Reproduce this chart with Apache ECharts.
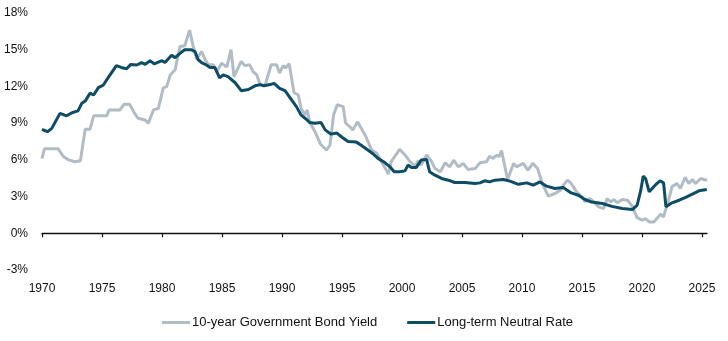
<!DOCTYPE html>
<html>
<head>
<meta charset="utf-8">
<script src="https://cdn.jsdelivr.net/npm/echarts@6/dist/echarts.min.js"></script>
<style>html,body{margin:0;padding:0;background:#fff}#c{width:728px;height:341px}</style>
</head>
<body>
<div id="c"></div>
<script>
const seriesNames = ['10-year Government Bond Yield', 'Long-term Neutral Rate'];
const xTickYears = [1970, 1975, 1980, 1985, 1990, 1995, 2000, 2005, 2010, 2015, 2020, 2025];
const yTicks = [-3, 0, 3, 6, 9, 12, 15, 18];

const bondYears = [1970.0,1970.2,1971.35,1971.8,1972.2,1972.75,1973.2,1973.6,1974.0,1974.3,1975.4,1975.6,1976.5,1976.85,1977.3,1977.75,1978.0,1978.6,1978.86,1979.3,1979.7,1980.1,1980.4,1980.7,1981.1,1981.36,1981.5,1981.9,1982.3,1982.6,1982.9,1983.3,1983.6,1983.86,1984.3,1984.55,1984.97,1985.4,1985.75,1986.0,1986.6,1986.9,1987.3,1987.6,1987.9,1988.2,1988.6,1989.1,1989.55,1989.8,1990.1,1990.3,1990.6,1991.0,1991.36,1991.6,1991.9,1992.1,1992.3,1992.75,1993.2,1993.7,1994.0,1994.3,1994.6,1995.1,1995.3,1995.67,1995.9,1996.3,1996.6,1996.97,1997.1,1997.47,1997.9,1998.3,1998.7,1998.86,1999.1,1999.55,1999.8,2000.25,2000.67,2001.1,2001.36,2001.6,2002.05,2002.4,2002.75,2003.2,2003.6,2004.0,2004.3,2004.7,2005.1,2005.5,2006.1,2006.5,2006.6,2007.05,2007.3,2007.6,2007.9,2008.1,2008.3,2008.8,2009.3,2009.55,2010.1,2010.5,2010.9,2011.3,2011.75,2012.2,2012.75,2013.2,2013.44,2013.8,2014.1,2014.55,2015.0,2015.25,2015.67,2016.4,2016.8,2017.1,2017.4,2017.67,2017.94,2018.36,2018.8,2019.2,2019.6,2020.0,2020.3,2020.6,2021.0,2021.3,2021.55,2021.8,2022.2,2022.5,2022.9,2023.2,2023.6,2023.9,2024.2,2024.47,2024.9,2025.3,2025.42];
const bondValues = [6.1,6.9,6.9,6.25,6.0,5.85,5.93,8.5,8.5,9.6,9.6,10.08,10.08,10.55,10.55,9.75,9.4,9.26,9.0,10.1,10.2,11.86,12.0,12.95,13.36,14.6,15.27,15.33,16.6,15.27,14.24,14.86,14.18,13.77,13.77,13.2,13.9,13.58,15.0,12.8,14.04,13.7,13.77,13.2,12.95,12.1,12.13,13.77,13.77,13.1,13.7,13.5,13.85,11.5,11.3,10.2,9.67,10.08,9.12,8.3,7.3,6.8,7.2,9.67,10.5,10.35,9.0,8.7,8.44,9.12,8.58,7.95,7.85,6.8,6.53,5.85,5.16,4.84,5.85,6.48,6.86,6.4,5.85,5.49,5.93,5.57,6.4,5.98,5.3,5.03,5.76,5.43,5.98,5.43,5.71,5.22,5.3,5.76,5.71,5.85,6.3,6.12,6.4,6.26,6.75,4.4,5.71,5.43,5.71,5.16,5.71,5.3,3.93,3.03,3.25,3.52,3.93,4.34,4.07,3.39,2.98,2.57,2.84,2.16,2.02,2.84,2.57,2.76,2.49,2.76,2.7,2.2,1.28,1.07,1.2,0.93,0.93,1.28,1.56,1.34,2.65,3.8,4.07,3.66,4.57,4.07,4.4,4.07,4.48,4.34,4.4];

const neutralYears = [1970.0,1970.45,1970.8,1971.5,1972.05,1972.5,1973.0,1973.3,1973.6,1974.0,1974.3,1974.7,1975.1,1975.5,1976.2,1976.6,1977.05,1977.4,1977.9,1978.3,1978.6,1979.0,1979.35,1980.0,1980.25,1980.8,1981.1,1981.5,1981.9,1982.45,1982.75,1983.0,1983.3,1983.7,1984.0,1984.4,1984.8,1985.1,1985.5,1986.1,1986.6,1987.2,1987.75,1988.2,1988.5,1989.0,1989.35,1989.8,1990.25,1990.8,1991.2,1991.6,1992.05,1992.3,1992.75,1993.25,1993.6,1994.1,1994.55,1995.0,1995.5,1996.2,1996.6,1997.3,1997.6,1998.0,1998.6,1999.0,1999.35,1999.8,2000.25,2000.5,2000.8,2001.2,2001.6,2002.05,2002.3,2002.75,2003.3,2003.86,2004.4,2005.25,2006.1,2006.5,2006.9,2007.3,2007.75,2008.44,2009.0,2009.7,2010.4,2010.94,2011.5,2012.05,2012.75,2013.44,2014.1,2014.7,2015.25,2015.8,2016.7,2017.5,2018.36,2019.2,2019.6,2019.9,2020.1,2020.3,2020.6,2021.1,2021.5,2021.8,2022.0,2022.5,2023.1,2023.6,2024.2,2024.75,2025.4];
const neutralValues = [8.5,8.3,8.55,9.8,9.6,9.85,10.0,10.6,10.8,11.45,11.3,11.9,12.1,12.7,13.7,13.55,13.45,13.8,13.75,13.95,13.8,14.1,13.85,14.1,13.95,14.55,14.35,14.7,15.0,15.0,14.85,14.2,13.95,13.75,13.55,13.55,12.7,12.95,12.8,12.3,11.65,11.75,12.05,12.15,12.05,12.15,12.25,11.85,11.65,10.9,10.35,9.65,9.3,9.05,9.0,9.05,8.45,8.1,8.2,7.85,7.5,7.45,7.2,6.7,6.48,6.12,5.76,5.43,5.03,5.03,5.1,5.57,5.38,5.38,5.98,6.04,5.03,4.75,4.48,4.34,4.15,4.15,4.07,4.12,4.29,4.2,4.34,4.4,4.26,4.0,4.12,3.93,4.2,3.85,3.66,3.74,3.3,3.11,2.76,2.55,2.43,2.2,2.02,1.94,2.3,3.5,4.67,4.48,3.39,3.93,4.29,4.12,2.16,2.49,2.7,2.92,3.2,3.47,3.58];

const pair = (xs, ys) => xs.map((x, i) => [x, ys[i]]);
const FONT = '"Liberation Sans", Arial, sans-serif';
const TXT = '#111111';
const chart = echarts.init(document.getElementById('c'), null, {renderer: 'canvas'});
chart.setOption({
  animation: false,
  backgroundColor: '#ffffff',
  textStyle: {fontFamily: FONT},
  grid: {left: 42, right: 21, top: 13, bottom: 71},
  legend: {
    left: 157, top: 311,
    icon: 'rect',
    itemWidth: 28, itemHeight: 3, itemGap: 30,
    textStyle: {fontFamily: FONT, fontSize: 13, color: TXT, padding: [0, 0, 0, -3]},
    data: seriesNames
  },
  xAxis: [{
    type: 'value', min: 1970, max: 2025.42,
    axisLine: {show: true, onZero: true, lineStyle: {color: '#111', width: 1.3}},
    axisTick: {show: true, length: 4, inside: false, lineStyle: {color: '#111', width: 1.2}, customValues: xTickYears},
    axisLabel: {show: false},
    splitLine: {show: false}
  }, {
    type: 'value', min: 1970, max: 2025.42, position: 'bottom',
    axisLine: {show: false, onZero: false},
    axisTick: {show: false},
    axisLabel: {show: true, margin: 13, fontSize: 12, color: TXT, fontFamily: FONT, customValues: xTickYears, formatter: v => String(v)},
    splitLine: {show: false}
  }],
  yAxis: {
    type: 'value', min: -3, max: 18, interval: 3,
    axisLine: {show: false}, axisTick: {show: false},
    splitLine: {show: false},
    axisLabel: {margin: 14, fontSize: 12, color: TXT, fontFamily: FONT, formatter: v => v + '%'}
  },
  series: [{
    name: seriesNames[0], type: 'line', xAxisIndex: 0,
    data: pair(bondYears, bondValues),
    symbol: 'none', smooth: false,
    lineStyle: {color: '#b2bcc6', width: 3},
    itemStyle: {color: '#b2bcc6'}
  }, {
    name: seriesNames[1], type: 'line', xAxisIndex: 0,
    data: pair(neutralYears, neutralValues),
    symbol: 'none', smooth: false,
    lineStyle: {color: '#0d4c66', width: 3},
    itemStyle: {color: '#0d4c66'}
  }]
});
</script>
</body>
</html>
